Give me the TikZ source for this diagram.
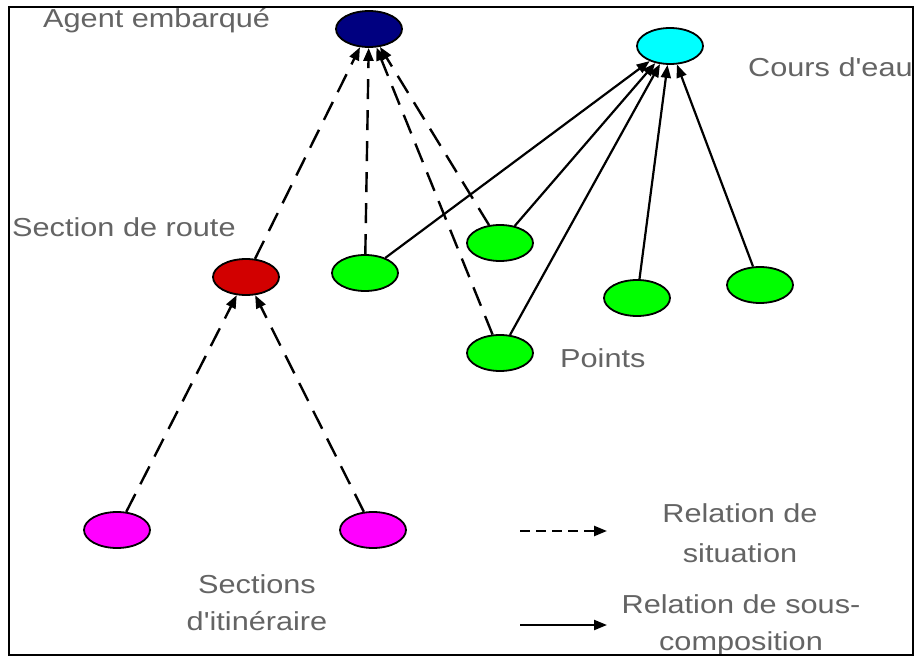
\documentclass[tikz,border=0pt]{standalone}
\usepackage{fontspec}
\setmainfont{Liberation Sans}[FakeStretch=1.18, Ligatures=TeXOff]
\usetikzlibrary{arrows.meta,shapes.geometric}
\definecolor{lblgray}{RGB}{100,100,100}
\definecolor{navyc}{RGB}{0,0,128}
\definecolor{cyanc}{RGB}{0,255,255}
\definecolor{redc}{RGB}{210,0,0}
\definecolor{greenc}{RGB}{0,255,0}
\definecolor{magc}{RGB}{255,0,255}
\begin{document}
\begin{tikzpicture}[x=1pt,y=-1pt,
  ent/.style={ellipse, draw=black, line width=1.8pt, minimum width=66pt, minimum height=36pt, inner sep=0pt},
  lbl/.style={text=lblgray, font=\fontsize{26}{39}\selectfont, inner sep=0pt, align=center},
  sit/.style={line width=2.4pt, dash pattern=on 20pt off 11pt, -{Triangle[length=13pt,width=10pt]}},
  comp/.style={line width=2.2pt, -{Triangle[length=13pt,width=10pt]}}]
\useasboundingbox[fill=white] (0,0) rectangle (916,660);
% nodes
\node[ent, fill=navyc] (agent) at (369,29) {};
\node[ent, fill=cyanc] (cours) at (670,46) {};
\node[ent, fill=redc] (route) at (246,277) {};
\node[ent, fill=greenc] (g1) at (365,273) {};
\node[ent, fill=greenc] (g2) at (500,243) {};
\node[ent, fill=greenc] (g3) at (500,353) {};
\node[ent, fill=greenc] (g4) at (637,298) {};
\node[ent, fill=greenc] (g5) at (760,285) {};
\node[ent, fill=magc] (m1) at (117,530) {};
\node[ent, fill=magc] (m2) at (373,530) {};
% labels
\node[lbl, anchor=base west] (tagent) at (43,28) {Agent embarqué};
\node[lbl, anchor=base west] (troute) at (12,237) {Section de route};
\node[lbl, anchor=base west] (tcours) at (748,77) {Cours d'eau};
\node[lbl, anchor=base west] (tpoints) at (560,367) {Points};
\node[lbl, anchor=north, font=\fontsize{26}{37}\selectfont] (tsect) at (257,574) {Sections\\d'itinéraire};
\node[lbl, anchor=north, font=\fontsize{26}{40}\selectfont] (tsit) at (740,503) {Relation de\\situation};
\node[lbl, anchor=north, font=\fontsize{26}{37}\selectfont] (tcomp) at (741,594) {Relation de sous-\\composition};
% situation relations
\draw[sit] (route) -- (agent);
\draw[sit] (g1) -- (agent);
\draw[sit] (g2) -- (agent);
\draw[sit] (g3) -- (agent);
\draw[sit] (m1) -- (route);
\draw[sit] (m2) -- (route);
% composition relations
\draw[comp] (g1) -- (cours);
\draw[comp] (g2) -- (cours);
\draw[comp] (g3) -- (cours);
\draw[comp] (g4) -- (cours);
\draw[comp] (g5) -- (cours);
% legend
\coordinate (ls1) at (520,531);
\coordinate (le1) at (607,531);
\coordinate (ls2) at (520,625);
\coordinate (le2) at (607,625);
\draw[sit, dash pattern=on 10pt off 6pt] (ls1) -- (le1);
\draw[comp] (ls2) -- (le2);
% frame
\draw[line width=2pt] (9,7) rectangle (913,655);
\end{tikzpicture}
\end{document}
